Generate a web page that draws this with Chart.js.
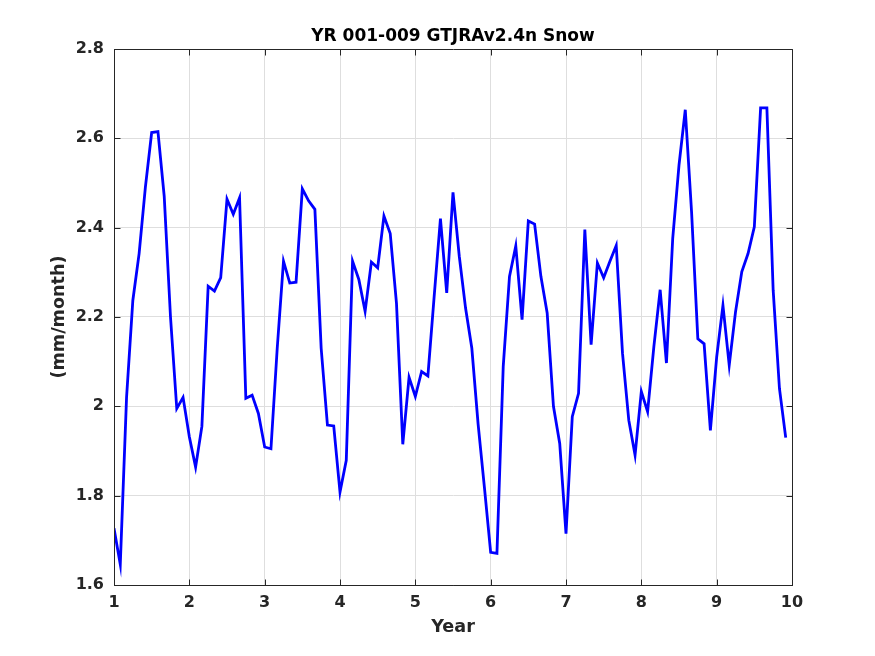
<!DOCTYPE html>
<html>
<head>
<meta charset="utf-8">
<script src="https://cdn.jsdelivr.net/npm/chart.js@4/dist/chart.umd.min.js"></script>
<style>
  html, body { margin: 0; padding: 0; background: #ffffff; }
  #wrap { width: 875px; height: 656px; position: relative; }
</style>
</head>
<body>
<div id="wrap"><canvas id="c" width="875" height="656"></canvas></div>
<script>
// ---- data (monthly snow, years 1-9) ----
const titleText = 'YR 001-009 GTJRAv2.4n Snow';
const xLabel = 'Year';
const yLabel = '(mm/month)';
const xTicks = [1, 2, 3, 4, 5, 6, 7, 8, 9, 10];
const yTicks = [1.6, 1.8, 2.0, 2.2, 2.4, 2.6, 2.8];
const snowYr1 = [1.727, 1.646, 2.020, 2.237, 2.342, 2.491, 2.613, 2.615, 2.470, 2.200, 1.995, 2.020];
const snowYr2 = [1.932, 1.864, 1.955, 2.269, 2.258, 2.288, 2.464, 2.430, 2.467, 2.018, 2.025, 1.984];
const snowYr3 = [1.909, 1.905, 2.130, 2.325, 2.276, 2.278, 2.487, 2.460, 2.441, 2.130, 1.958, 1.956];
const snowYr4 = [1.808, 1.879, 2.325, 2.284, 2.213, 2.323, 2.310, 2.426, 2.387, 2.230, 1.915, 2.065];
const snowYr5 = [2.022, 2.078, 2.068, 2.246, 2.420, 2.254, 2.479, 2.336, 2.220, 2.130, 1.960, 1.819];
const snowYr6 = [1.673, 1.671, 2.089, 2.291, 2.359, 2.194, 2.415, 2.408, 2.291, 2.209, 2.000, 1.917];
const snowYr7 = [1.715, 1.977, 2.029, 2.396, 2.138, 2.321, 2.288, 2.325, 2.360, 2.119, 1.969, 1.891];
const snowYr8 = [2.033, 1.988, 2.134, 2.261, 2.097, 2.376, 2.540, 2.664, 2.436, 2.151, 2.140, 1.946];
const snowYr9 = [2.110, 2.226, 2.092, 2.211, 2.301, 2.342, 2.402, 2.668, 2.668, 2.260, 2.040, 1.930];

const years = [snowYr1, snowYr2, snowYr3, snowYr4, snowYr5, snowYr6, snowYr7, snowYr8, snowYr9];
const points = [];
years.forEach((arr, yi) => arr.forEach((v, m) => points.push({ x: 1 + yi + m / 12, y: v })));

const FONT = "'DejaVu Sans', 'Liberation Sans', sans-serif";
const AX = '#262626';

const decorPlugin = {
  id: 'matlabDecor',
  afterDraw(chart) {
    const ctx = chart.ctx;
    const a = chart.chartArea;
    const xs = chart.scales.x, ys = chart.scales.y;
    const L = Math.round(a.left) + 0.5, R = Math.round(a.right) + 0.5;
    const T = Math.round(a.top) + 0.5, B = Math.round(a.bottom) + 0.5;
    ctx.save();
    ctx.strokeStyle = AX;
    ctx.lineWidth = 1;
    ctx.beginPath();
    ctx.rect(L, T, R - L, B - T);
    ctx.stroke();
    const tl = 6;
    ctx.beginPath();
    xTicks.forEach(t => {
      const px = Math.round(xs.getPixelForValue(t)) + 0.5;
      ctx.moveTo(px, B); ctx.lineTo(px, B - tl);
      ctx.moveTo(px, T); ctx.lineTo(px, T + tl);
    });
    yTicks.forEach(t => {
      const py = Math.round(ys.getPixelForValue(t)) + 0.5;
      ctx.moveTo(L, py); ctx.lineTo(L + tl, py);
      ctx.moveTo(R, py); ctx.lineTo(R - tl, py);
    });
    ctx.stroke();
    // title
    ctx.fillStyle = '#000000';
    ctx.font = 'bold 17px ' + FONT;
    ctx.textAlign = 'center';
    ctx.textBaseline = 'middle';
    ctx.fillText(titleText, (a.left + a.right) / 2, 37);
    // x label
    ctx.fillStyle = AX;
    ctx.font = 'bold 17.6px ' + FONT;
    ctx.fillText(xLabel, (a.left + a.right) / 2, 627);
    // y label
    ctx.translate(59, (a.top + a.bottom) / 2);
    ctx.rotate(-Math.PI / 2);
    ctx.fillText(yLabel, 0, 0);
    ctx.restore();
  }
};

new Chart(document.getElementById('c'), {
  type: 'line',
  data: {
    datasets: [{
      data: points,
      borderColor: '#0000ff',
      borderWidth: 2.8,
      pointRadius: 0,
      tension: 0,
      fill: false
    }]
  },
  options: {
    responsive: false,
    animation: false,
    devicePixelRatio: 1,
    layout: { padding: { left: 0, right: 83, top: 49, bottom: 0 } },
    plugins: { legend: { display: false }, title: { display: false }, tooltip: { enabled: false } },
    scales: {
      x: {
        type: 'linear',
        min: 1, max: 10,
        afterBuildTicks(s) { s.ticks = xTicks.map(v => ({ value: v })); },
        afterFit(s) { s.height = 71; },
        ticks: { color: AX, font: { family: FONT, size: 16, weight: 'bold' }, padding: 8, maxRotation: 0,
                 callback: v => String(v) },
        grid: { color: '#dedede', lineWidth: 1, drawTicks: false },
        border: { display: true, color: AX, width: 1 }
      },
      y: {
        type: 'linear',
        min: 1.6, max: 2.8,
        afterBuildTicks(s) { s.ticks = yTicks.map(v => ({ value: v })); },
        afterFit(s) { s.width = 114; },
        ticks: { color: AX, font: { family: FONT, size: 16, weight: 'bold' }, padding: 10,
                 callback: v => String(+(+v).toFixed(1)) },
        grid: { color: '#dedede', lineWidth: 1, drawTicks: false },
        border: { display: true, color: AX, width: 1 }
      }
    }
  },
  plugins: [decorPlugin]
});
</script>
</body>
</html>
